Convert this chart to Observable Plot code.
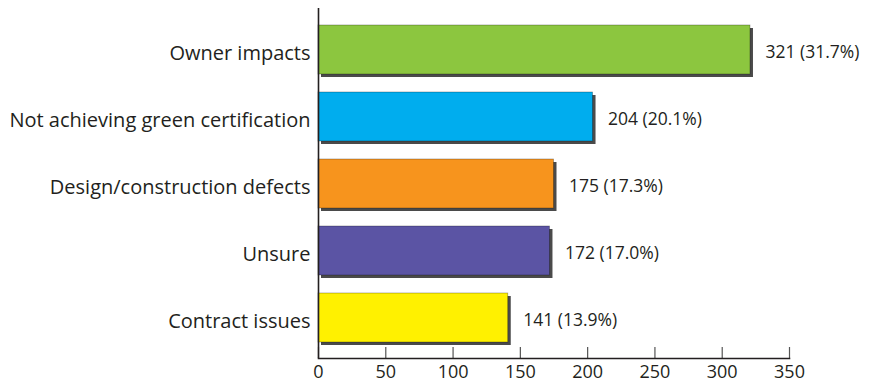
<!DOCTYPE html>
<html>
<head>
<meta charset="utf-8">
<script src="https://cdn.jsdelivr.net/npm/d3@7"></script>
<script src="https://cdn.jsdelivr.net/npm/@observablehq/plot@0.6"></script>
<style>
  html, body { margin: 0; padding: 0; background: #fff; }
  #chart svg { display: block; }
</style>
</head>
<body>
<div id="chart"></div>
<script>
// Survey responses by category
const categories = [
  "Owner impacts",
  "Not achieving green certification",
  "Design/construction defects",
  "Unsure",
  "Contract issues"
];
const counts = [321, 204, 175, 172, 141];
const shares = [31.7, 20.1, 17.3, 17.0, 13.9];
const colors = ["#8cc63f", "#00adee", "#f7941d", "#5b54a4", "#fff100"];
const xTicks = [0, 50, 100, 150, 200, 250, 300, 350];

const rows = categories.map((c, i) => ({
  category: c,
  count: counts[i],
  label: `${counts[i]} (${shares[i].toFixed(1)}%)`,
  color: colors[i]
}));

const ink = "#231f20";
const font = "'Open Sans', sans-serif";

const chart = Plot.plot({
  width: 874,
  height: 383,
  marginLeft: 318,
  marginRight: 85,
  marginTop: 8,
  marginBottom: 25,
  style: { fontFamily: font, color: ink, background: "#fff", overflow: "visible" },
  x: { domain: [0, 350], axis: null, label: null },
  y: { domain: categories, paddingInner: 0.275, paddingOuter: 0.226, axis: null, label: null },
  marks: [
    // soft drop shadow behind each bar
    Plot.barX(rows, { y: "category", x: "count", fill: "#4a4a4a", dx: 3, dy: 3, ariaLabel: "shadow" }),
    Plot.barX(rows, { y: "category", x: "count", fill: "color", stroke: "rgba(0,0,0,0.35)", strokeWidth: 0.8 }),
    // value labels
    Plot.text(rows, { y: "category", x: "count", text: "label", textAnchor: "start", dx: 15, dy: 2, fontSize: 17.5, fill: ink }),
    // category labels
    Plot.text(rows, { y: "category", x: 0, text: "category", textAnchor: "end", dx: -8, dy: 4, fontSize: 20, fill: ink }),
    // inward tick marks
    Plot.tickX(xTicks, { x: d => d, stroke: "#555", strokeWidth: 1.2, insetTop: 339 }),
    Plot.axisX(xTicks, { ticks: xTicks, tickSize: 0, tickPadding: 7, fontSize: 18, fill: ink, stroke: "none", label: null }),
    Plot.frame({ anchor: "bottom", stroke: ink, strokeWidth: 1.6 }),
    Plot.ruleX([0], { stroke: ink, strokeWidth: 1.6 })
  ]
});

// blur the shadow layer
d3.select(chart).selectAll("g[aria-label='shadow']").style("filter", "blur(1.3px)");

document.getElementById("chart").appendChild(chart);
</script>
</body>
</html>
